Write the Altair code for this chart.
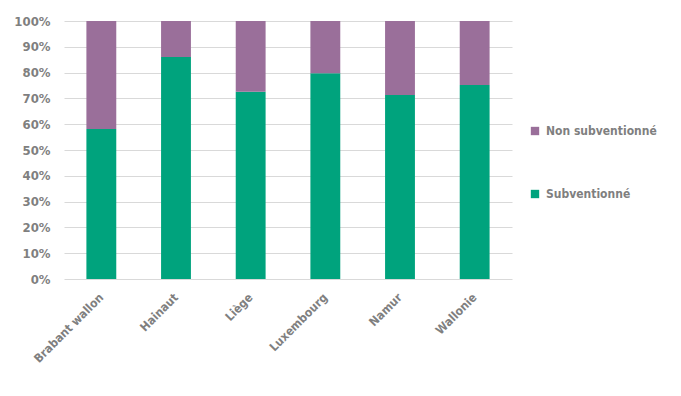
import altair as alt
import pandas as pd

regions = ["Brabant wallon", "Hainaut", "Liège", "Luxembourg", "Namur", "Wallonie"]
subventionne = [58.1, 86.0, 72.6, 79.7, 71.3, 75.2]
non_subventionne = [41.9, 14.0, 27.4, 20.3, 28.7, 24.8]
series = ["Non subventionné", "Subventionné"]
colors = ["#9A6F9A", "#00A37D"]

rows = []
for r, s, n in zip(regions, subventionne, non_subventionne):
    rows.append({"region": r, "serie": "Subventionné", "value": s / 100, "ord": 0})
    rows.append({"region": r, "serie": "Non subventionné", "value": n / 100, "ord": 1})
df = pd.DataFrame(rows)

FONT = "DejaVu Sans Condensed"
GRAY = "#7F7F7F"

chart = alt.Chart(df).mark_bar().encode(
    x=alt.X("region:N", sort=regions, title=None,
            scale=alt.Scale(paddingInner=0.6, paddingOuter=0.3),
            axis=alt.Axis(labelAngle=-45, labelAlign="right", labelBaseline="middle",
                          labelPadding=16, domain=False, ticks=False,
                          labelFont=FONT, labelFontWeight="bold", labelFontSize=12,
                          labelColor=GRAY)),
    y=alt.Y("value:Q", stack="zero", title=None,
            scale=alt.Scale(domain=[0, 1], nice=False),
            axis=alt.Axis(format=".0%", values=[i / 10 for i in range(11)],
                          domain=False, ticks=False, labelPadding=14,
                          gridColor="#D9D9D9", gridWidth=1,
                          labelFont=FONT, labelFontWeight="bold", labelFontSize=13,
                          labelColor=GRAY)),
    color=alt.Color("serie:N", scale=alt.Scale(domain=series, range=colors),
                    legend=alt.Legend(title=None, orient="none", legendX=465, legendY=104,
                                      symbolType="square", symbolSize=70,
                                      symbolStrokeWidth=0,
                                      rowPadding=51, padding=0,
                                      labelFont=FONT, labelFontWeight="bold",
                                      labelFontSize=12, labelColor=GRAY, labelOffset=5)),
    order=alt.Order("ord:Q", sort="ascending"),
).properties(
    width=448, height=258,
    autosize=alt.AutoSizeParams(type="none"),
    padding={"left": 56, "top": 13, "right": 161, "bottom": 100},
).configure_view(stroke=None)

chart.save("out.html", embed_options={"renderer": "svg", "actions": False})
